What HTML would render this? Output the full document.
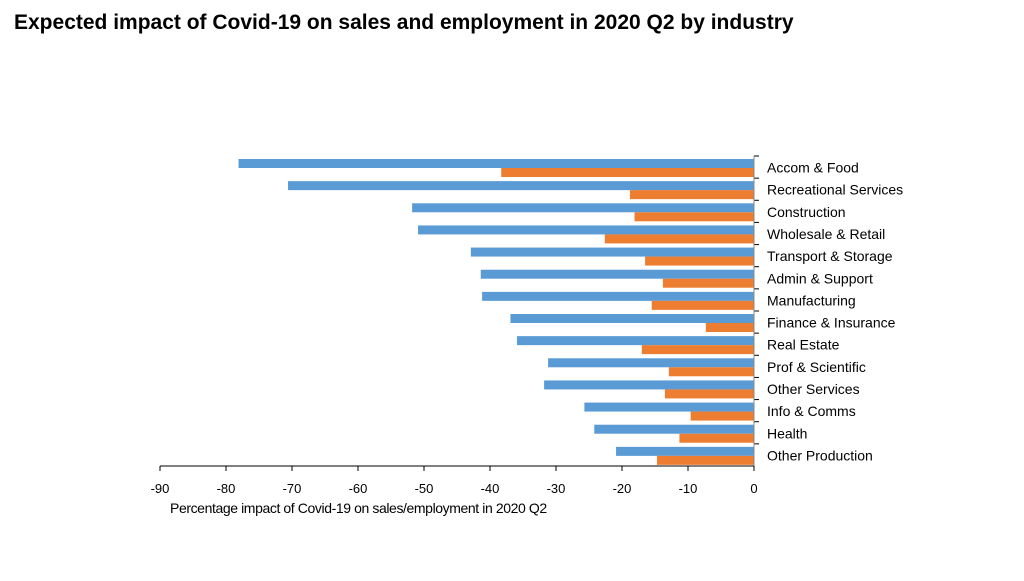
<!DOCTYPE html>
<html><head><meta charset="utf-8"><style>
body{margin:0;background:#fff;font-family:"Liberation Sans",sans-serif;}
</style></head><body>
<svg width="1024" height="576" xmlns="http://www.w3.org/2000/svg" font-family="Liberation Sans, sans-serif">
<text x="14" y="29" font-size="21" font-weight="bold" fill="#000">Expected impact of Covid-19 on sales and employment in 2020 Q2 by industry</text>
<g id="plot"></g>
<text x="170" y="513" font-size="14" fill="#000" letter-spacing="-0.4">Percentage impact of Covid-19 on sales/employment in 2020 Q2</text>
</svg>
<script>
const categories=["Accom & Food","Recreational Services","Construction","Wholesale & Retail","Transport & Storage","Admin & Support","Manufacturing","Finance & Insurance","Real Estate","Prof & Scientific","Other Services","Info & Comms","Health","Other Production"];
const sales=[-78.1,-70.6,-51.8,-50.9,-42.9,-41.4,-41.2,-36.9,-35.9,-31.2,-31.8,-25.7,-24.2,-20.9];
const employment=[-38.3,-18.8,-18.1,-22.6,-16.5,-13.8,-15.5,-7.3,-17.0,-12.9,-13.5,-9.6,-11.3,-14.7];
const ticks=[-90,-80,-70,-60,-50,-40,-30,-20,-10,0];
const NS="http://www.w3.org/2000/svg";
const plotG=document.getElementById('plot');
const x0=160,x1=754,plotTop=156,plotBottom=466;
const xs=v=>x1+(v/90)*(x1-x0);
const band=(plotBottom-plotTop)/categories.length;
function mk(t,a){const e=document.createElementNS(NS,t);for(const k in a)e.setAttribute(k,a[k]);plotG.appendChild(e);return e;}
categories.forEach((c,i)=>{
 const y=plotTop+i*band;
 const b=mk('rect',{x:xs(sales[i]),y:y+3,width:xs(0)-xs(sales[i]),height:9,fill:'#5b9bd5'});
 
 
 const o=mk('rect',{x:xs(employment[i]),y:y+12,width:xs(0)-xs(employment[i]),height:9,fill:'#ed7d31'});
 
 
 const t=mk('text',{x:767,y:y+band/2+5.5,'font-size':14,fill:'#000'});
 t.textContent=c;
 
 
 const tk=mk('line',{x1:x1,x2:x1+5,y1:y,y2:y,stroke:'#000','stroke-width':1});
 
 
});
const ya=mk('line',{x1:x1,x2:x1,y1:plotTop,y2:plotBottom,stroke:'#888','stroke-width':1});


const xa=mk('line',{x1:x0,x2:x1,y1:plotBottom,y2:plotBottom,stroke:'#000','stroke-width':1});


ticks.forEach(v=>{
 const l=mk('line',{x1:xs(v),x2:xs(v),y1:plotBottom,y2:plotBottom+5,stroke:'#000'});
 
 
 const t=mk('text',{x:xs(v),y:493,'font-size':13,'text-anchor':'middle',fill:'#000'});
 t.textContent=v;
 
 
});
</script>
</body></html>
